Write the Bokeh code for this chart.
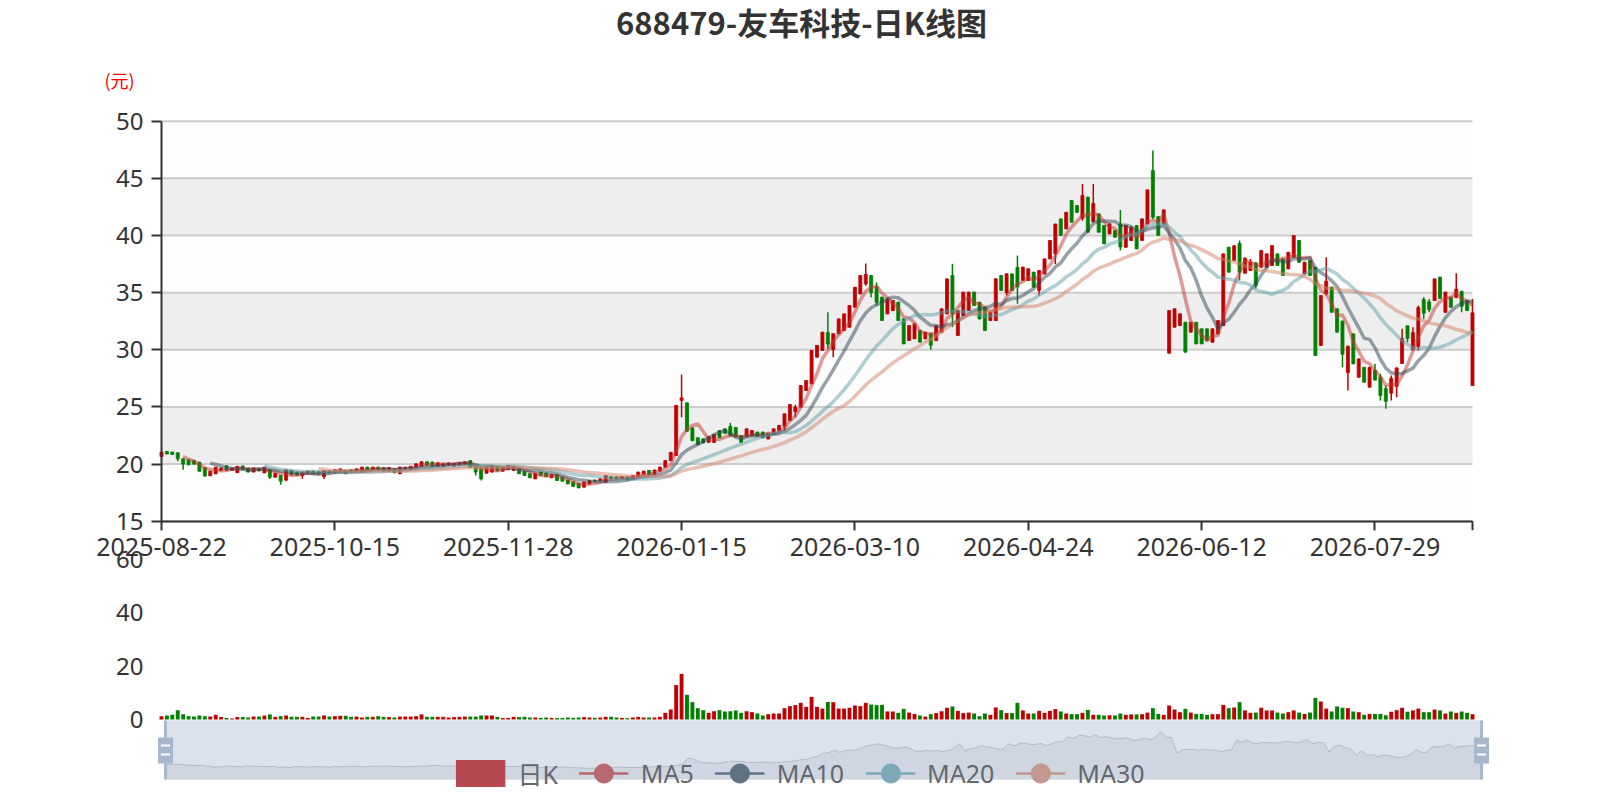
import numpy as np
import pandas as pd
from bokeh.plotting import figure
from bokeh.models import (ColumnDataSource, Range1d, FixedTicker, Label, Legend,
                          LegendItem, BoxAnnotation, LinearAxis)
from bokeh.embed import file_html
from bokeh.resources import INLINE

# ---------------- data ----------------
title_text = "688479-友车科技-日K线图"
tick_idx = [0, 32, 64, 96, 128, 160, 192, 224]
tick_labels = ["2025-08-22", "2025-10-15", "2025-11-28", "2026-01-15",
               "2026-03-10", "2026-04-24", "2026-06-12", "2026-07-29"]
price_ticks = [15, 20, 25, 30, 35, 40, 45, 50]
vol_ticks = [0, 20, 40, 60]
ma_names = ["MA5", "MA10", "MA20", "MA30"]
ma_windows = [5, 10, 20, 30]

opens = [
    20.66, 21.10, 21.04, 20.98, 20.45, 20.37, 20.30, 20.16, 19.67, 18.97,
    19.15, 19.44, 19.85, 19.44, 19.25, 19.83, 19.65, 19.30, 19.60, 19.23,
    19.50, 18.85, 19.00, 18.60, 19.44, 19.29, 19.00, 19.15, 19.38, 19.32,
    18.90, 19.44, 19.23, 19.30, 19.44, 19.50, 19.29, 19.29, 19.73, 19.50,
    19.73, 19.70, 19.40, 19.58, 19.15, 19.50, 19.50, 19.73, 19.80, 20.20,
    20.17, 19.80, 19.80, 19.87, 19.82, 19.90, 19.95, 20.30, 19.75, 19.60,
    19.20, 19.30, 19.80, 19.38, 19.50, 19.44, 19.65, 19.35, 19.15, 18.71,
    19.29, 19.20, 18.80, 19.08, 18.85, 18.60, 18.45, 18.30, 17.98, 18.25,
    18.60, 18.56, 18.42, 18.90, 18.88, 18.71, 18.88, 18.71, 18.90, 19.08,
    19.44, 19.12, 19.38, 19.73, 20.30, 20.74, 25.56, 25.35, 23.17, 22.30,
    22.20, 21.90, 21.90, 22.93, 23.08, 23.30, 23.20, 22.50, 22.40, 22.50,
    22.80, 22.80, 22.20, 22.60, 22.94, 23.30, 23.81, 24.60, 24.98, 26.43,
    27.02, 29.35, 29.94, 31.50, 30.00, 31.40, 31.68, 31.98, 33.72, 34.89,
    35.77, 36.50, 35.50, 34.60, 33.14, 33.43, 34.16, 32.70, 30.81, 30.96,
    31.68, 30.96, 31.40, 30.80, 31.54, 33.14, 36.50, 31.25, 32.99, 33.43,
    35.04, 34.16, 33.72, 32.56, 32.56, 36.50, 35.00, 36.64, 37.20, 36.06,
    36.06, 36.79, 35.20, 36.64, 37.95, 38.40, 41.45, 40.58, 43.06, 42.62,
    41.50, 43.35, 41.20, 41.89, 40.87, 40.14, 40.43, 41.00, 38.97, 39.56,
    40.87, 39.56, 41.02, 45.68, 41.65, 41.02, 29.70, 31.98, 32.12, 32.41,
    31.54, 32.41, 31.83, 31.83, 30.66, 31.39, 32.12, 38.97, 37.81, 39.30,
    36.70, 36.93, 37.60, 37.22, 37.22, 37.37, 38.39, 37.95, 37.08, 38.10,
    39.56, 36.64, 37.81, 37.22, 30.37, 34.90, 35.48, 33.58, 32.50, 28.00,
    31.39, 27.60, 28.47, 26.73, 28.20, 27.60, 26.60, 26.20, 26.80, 28.80,
    32.10, 30.00, 30.30, 34.40, 34.20, 34.31, 36.35, 33.28, 34.60, 34.60,
    35.10, 34.30, 26.87]

closes = [
    21.04, 20.89, 20.84, 20.46, 20.00, 19.93, 20.00, 19.38, 18.95, 19.38,
    19.73, 19.65, 19.44, 19.65, 19.80, 19.55, 19.30, 19.65, 19.40, 19.73,
    18.85, 19.20, 18.50, 19.49, 19.06, 19.00, 19.29, 19.38, 19.15, 19.15,
    19.44, 19.23, 19.50, 19.58, 19.15, 19.29, 19.58, 19.73, 19.50, 19.73,
    19.52, 19.40, 19.70, 19.23, 19.73, 19.73, 19.80, 20.02, 20.20, 19.90,
    19.80, 20.10, 20.02, 20.10, 20.05, 20.12, 20.20, 19.70, 19.30, 18.70,
    19.78, 19.85, 19.40, 19.73, 19.87, 19.78, 19.15, 19.00, 18.80, 19.20,
    19.00, 18.90, 19.08, 18.56, 18.50, 18.27, 18.05, 17.92, 18.42, 18.56,
    18.50, 18.71, 19.00, 18.71, 18.68, 18.90, 18.60, 19.00, 19.29, 19.38,
    19.10, 19.48, 19.73, 20.30, 21.03, 25.12, 25.79, 22.88, 22.05, 21.70,
    21.85, 22.40, 22.58, 22.30, 22.70, 22.50, 22.40, 21.90, 23.08, 22.93,
    22.40, 22.30, 22.70, 23.08, 23.37, 24.39, 25.21, 24.98, 26.87, 27.31,
    29.94, 30.38, 31.54, 30.50, 31.40, 32.70, 33.14, 33.87, 35.47, 36.50,
    36.60, 35.00, 34.16, 32.56, 34.45, 34.31, 32.56, 30.52, 32.12, 32.27,
    30.67, 31.54, 30.40, 32.10, 33.58, 36.20, 33.14, 33.43, 35.04, 35.04,
    33.87, 32.70, 31.68, 33.29, 36.21, 35.20, 36.64, 35.19, 35.50, 37.23,
    37.08, 35.48, 36.93, 37.95, 39.56, 41.00, 40.00, 42.03, 41.16, 42.03,
    43.50, 40.29, 42.80, 40.29, 39.27, 41.02, 39.85, 39.00, 40.87, 40.73,
    38.83, 41.45, 43.99, 41.60, 40.00, 42.24, 33.43, 33.58, 33.14, 29.79,
    32.41, 30.52, 30.52, 30.81, 31.83, 32.55, 38.39, 36.79, 39.10, 36.80,
    38.00, 37.66, 35.60, 38.68, 38.39, 39.12, 37.37, 36.50, 38.53, 39.99,
    37.66, 37.66, 36.50, 29.50, 34.75, 36.00, 33.29, 31.54, 29.60, 30.30,
    28.77, 29.20, 27.16, 28.47, 27.35, 26.00, 25.50, 27.50, 28.40, 31.00,
    31.00, 31.50, 33.70, 33.20, 33.50, 36.20, 34.50, 35.04, 33.72, 35.30,
    33.80, 33.43, 33.23]

lows = [
    20.60, 20.85, 20.80, 20.25, 19.50, 19.90, 19.95, 19.35, 18.90, 18.95,
    19.10, 19.40, 19.40, 19.40, 19.22, 19.50, 19.28, 19.28, 19.38, 19.20,
    18.70, 18.82, 18.18, 18.50, 19.03, 18.97, 18.71, 19.12, 19.12, 19.12,
    18.70, 19.20, 19.20, 19.27, 19.12, 19.26, 19.26, 19.26, 19.47, 19.47,
    19.49, 19.37, 19.37, 19.20, 19.12, 19.47, 19.47, 19.70, 19.77, 19.87,
    19.77, 19.77, 19.77, 19.84, 19.79, 19.87, 19.92, 19.67, 19.00, 18.56,
    19.17, 19.27, 19.37, 19.35, 19.47, 19.41, 19.12, 18.97, 18.77, 18.68,
    18.97, 18.87, 18.77, 18.53, 18.47, 18.24, 18.02, 17.89, 17.95, 18.22,
    18.47, 18.53, 18.39, 18.68, 18.65, 18.68, 18.57, 18.68, 18.87, 19.05,
    19.07, 19.09, 19.35, 19.70, 20.27, 20.70, 24.10, 22.80, 22.00, 21.67,
    21.82, 21.87, 21.87, 22.27, 22.67, 22.40, 22.37, 21.87, 22.37, 22.47,
    22.37, 22.27, 22.17, 22.57, 22.80, 22.94, 23.78, 24.10, 24.95, 26.40,
    26.99, 29.32, 29.91, 30.09, 29.35, 31.37, 31.65, 31.95, 33.69, 34.86,
    35.60, 34.60, 33.87, 32.53, 33.11, 33.40, 32.53, 30.49, 30.78, 30.93,
    30.64, 30.93, 30.00, 30.77, 31.51, 33.11, 31.98, 31.22, 32.96, 33.40,
    33.84, 32.67, 31.65, 32.53, 32.53, 35.17, 34.75, 35.16, 34.02, 36.03,
    36.03, 35.45, 34.75, 36.61, 37.92, 37.50, 39.97, 40.55, 41.13, 42.00,
    41.30, 40.26, 41.16, 40.26, 39.24, 40.11, 39.82, 38.68, 38.94, 39.53,
    38.80, 39.53, 40.99, 41.45, 39.97, 40.99, 29.67, 31.95, 32.09, 29.76,
    31.51, 30.49, 30.49, 30.78, 30.63, 31.36, 32.09, 36.76, 37.78, 36.06,
    36.67, 36.90, 35.34, 37.19, 37.19, 37.34, 37.34, 36.47, 37.05, 38.07,
    37.63, 36.61, 36.47, 29.47, 30.34, 34.75, 33.26, 31.51, 28.47, 26.43,
    28.74, 27.57, 27.13, 26.70, 27.31, 25.56, 24.83, 25.56, 25.85, 28.77,
    30.66, 29.94, 29.94, 32.70, 33.29, 34.28, 34.45, 33.25, 33.69, 34.50,
    33.28, 33.40, 26.87]

highs = [
    21.10, 21.15, 21.08, 21.02, 20.50, 20.40, 20.35, 20.20, 19.70, 19.40,
    19.75, 19.70, 19.88, 19.70, 19.83, 19.86, 19.68, 19.68, 19.63, 19.76,
    19.52, 19.23, 19.02, 19.52, 19.47, 19.32, 19.32, 19.41, 19.41, 19.35,
    19.47, 19.47, 19.53, 19.61, 19.47, 19.53, 19.61, 19.76, 19.76, 19.76,
    19.76, 19.73, 19.73, 19.61, 19.76, 19.76, 19.83, 20.05, 20.23, 20.23,
    20.20, 20.13, 20.05, 20.13, 20.08, 20.15, 20.23, 20.33, 19.78, 19.73,
    19.81, 19.88, 19.83, 19.76, 19.90, 19.81, 19.68, 19.38, 19.18, 19.23,
    19.32, 19.23, 19.11, 19.11, 18.88, 18.63, 18.48, 18.33, 18.45, 18.59,
    18.63, 18.74, 19.03, 18.93, 18.91, 18.93, 18.91, 19.03, 19.32, 19.41,
    19.47, 19.51, 19.76, 20.33, 21.06, 25.20, 27.84, 25.40, 23.20, 22.33,
    22.23, 22.43, 22.61, 22.96, 23.11, 23.60, 23.23, 22.53, 23.11, 22.96,
    22.83, 22.83, 22.73, 23.11, 23.40, 24.42, 25.24, 25.20, 26.90, 27.34,
    29.97, 30.41, 31.57, 33.29, 31.43, 32.73, 33.17, 33.90, 35.50, 36.53,
    37.55, 36.53, 35.90, 34.63, 34.48, 34.34, 34.19, 32.73, 32.15, 32.30,
    31.71, 31.57, 31.43, 32.13, 33.61, 36.23, 37.52, 33.46, 35.07, 35.07,
    35.07, 34.19, 33.75, 33.32, 36.24, 36.53, 36.70, 36.67, 38.24, 37.26,
    37.11, 36.82, 36.96, 37.98, 39.59, 41.03, 41.48, 42.06, 43.09, 42.65,
    44.51, 43.38, 44.50, 41.92, 40.90, 41.05, 40.46, 42.24, 40.90, 40.76,
    40.90, 41.48, 44.02, 47.43, 41.68, 42.27, 33.46, 33.61, 33.17, 32.44,
    32.44, 32.44, 31.86, 31.86, 31.86, 32.58, 38.42, 39.00, 39.13, 39.56,
    38.10, 37.95, 37.66, 38.71, 38.42, 39.15, 38.42, 37.98, 38.56, 40.02,
    39.59, 37.69, 37.84, 37.25, 34.78, 38.10, 35.51, 33.61, 32.56, 30.37,
    31.42, 29.23, 28.50, 28.50, 28.77, 27.90, 26.87, 27.75, 28.48, 31.83,
    32.12, 31.98, 33.87, 34.60, 34.45, 36.23, 36.38, 35.07, 34.63, 36.70,
    35.18, 34.33, 34.45]

volumes = [
    1.25, 1.5, 1.75, 3.5, 2.0, 1.25, 1.1, 1.5, 1.25, 1.1,
    1.75, 0.9, 0.6, 0.4, 0.9, 0.9, 0.75, 1.1, 1.1, 1.5,
    1.9, 1.0, 1.25, 1.5, 1.0, 1.0, 1.0, 0.6, 1.1, 1.1,
    1.5, 1.1, 1.25, 1.4, 1.4, 1.0, 1.1, 0.75, 1.0, 1.0,
    1.25, 1.0, 0.9, 0.75, 1.1, 1.1, 1.1, 1.25, 1.9, 1.0,
    1.0, 1.0, 1.0, 0.75, 0.9, 1.0, 1.1, 1.1, 1.1, 1.5,
    1.5, 1.5, 1.0, 0.6, 0.6, 1.0, 0.9, 1.0, 0.75, 0.75,
    0.6, 0.75, 0.6, 0.5, 0.6, 0.75, 0.6, 0.75, 0.9, 0.75,
    0.6, 0.75, 1.0, 1.0, 0.75, 0.6, 0.5, 0.75, 1.0, 0.75,
    0.75, 0.75, 1.0, 2.5, 3.75, 12.9, 17.1, 9.25, 6.5, 4.25,
    3.5, 2.5, 3.1, 3.5, 3.0, 3.1, 3.4, 2.5, 3.1, 2.75,
    2.25, 1.5, 2.0, 2.25, 2.25, 4.25, 5.0, 5.4, 6.25, 4.75,
    8.5, 4.75, 4.1, 6.6, 6.5, 4.1, 4.1, 4.4, 5.25, 5.0,
    6.25, 5.6, 5.4, 5.5, 3.0, 3.0, 2.5, 4.0, 2.6, 2.1,
    1.5, 1.1, 2.0, 2.4, 3.1, 4.4, 4.9, 3.25, 2.4, 2.6,
    2.25, 1.25, 2.25, 1.75, 4.5, 3.5, 2.4, 2.4, 6.25, 3.4,
    2.25, 2.25, 3.25, 2.5, 3.25, 3.9, 3.0, 2.25, 2.0, 2.0,
    2.5, 3.6, 1.75, 1.75, 1.5, 1.6, 1.5, 2.25, 1.75, 1.9,
    1.9, 2.0, 2.6, 4.25, 2.1, 1.75, 5.25, 3.75, 2.75, 4.0,
    2.6, 2.1, 2.1, 1.75, 2.0, 2.0, 5.5, 4.25, 4.5, 6.5,
    3.4, 2.5, 2.6, 4.4, 3.4, 3.4, 2.6, 2.25, 2.75, 3.4,
    2.6, 2.1, 2.6, 8.1, 6.75, 4.1, 3.0, 4.9, 4.4, 4.25,
    3.0, 2.75, 1.75, 2.1, 2.1, 2.1, 1.6, 2.9, 3.5, 4.4,
    2.9, 3.4, 4.1, 2.75, 2.75, 3.75, 3.4, 2.25, 3.0, 2.5,
    3.0, 2.5, 2.0]

# ---------------- styles / layout (pixels) ----------------
UP, DOWN = "#c00000", "#008000"
MA_COLORS = ["#c23531", "#2f4554", "#61a0a8", "#d48265"]
# legend sits under the semi-transparent data-zoom filler in the original,
# so its colours are shown as seen through that filler
LEG_K = "#b64952"
LEG_MA = ["#b7696f", "#5f7384", "#7da9b6", "#c2978e"]
LEG_TXT = "#616870"
TXT = "#333333"
NUM_FONT = "Noto Sans"
CJK_FONT = "Noto Sans CJK SC"
MIX_FONT = "Noto Sans, Noto Sans CJK SC"
W, H = 1600, 800
X0, X1 = 161.0, 1472.0            # grid left / right
PY50, PY15 = 120.7, 520.7         # price grid top / bottom
VY60, VY0 = 559.0, 719.0          # volume grid top / bottom
SL_L, SL_R, SL_T, SL_B = 165.0, 1481.0, 720.0, 779.0   # data-zoom slider box

N = len(closes)
idx = list(range(N))
colors = [UP if c >= o else DOWN for o, c in zip(opens, closes)]
src = ColumnDataSource(dict(
    x=idx, o=opens, c=closes, l=lows, h=highs,
    top=[max(o, c) for o, c in zip(opens, closes)],
    bottom=[min(o, c) for o, c in zip(opens, closes)],
    color=colors, vol=volumes))
close_s = pd.Series(closes, dtype=float)
ma_values = [close_s.rolling(n).mean().to_numpy() for n in ma_windows]

kx = (X1 - X0) / (N - 1)                 # px per category
ky = (PY15 - PY50) / (price_ticks[-1] - price_ticks[0])   # px per yuan
kv = (VY0 - VY60) / vol_ticks[-1]        # px per volume unit
ks = (SL_R - SL_L) / (N - 1)             # px per category in slider
omin, omax = min(opens), max(opens)
pad = (omax - omin) * 0.3
lo, hi = omin - pad, omax + pad
upp = (hi - lo) / (SL_B - SL_T)

p = figure(width=W, height=H, title=None, toolbar_location=None, output_backend="svg",
           x_axis_location=None, y_axis_location=None,
           min_border=0, min_border_left=0, min_border_right=0,
           min_border_top=0, min_border_bottom=0,
           x_range=Range1d(-X0 / kx, (W - X0) / kx),
           y_range=Range1d(15 - (H - PY15) / ky, 15 + PY15 / ky))
p.extra_x_ranges = {"sidx": Range1d(-SL_L / ks, (N - 1) + (W - SL_R) / ks),
                    "px": Range1d(0, W)}
p.extra_y_ranges = {"vol": Range1d(-(H - VY0) / kv, VY0 / kv),
                    "shadow": Range1d(lo - (H - SL_B) * upp, hi + SL_T * upp),
                    "px": Range1d(H, 0)}
p.outline_line_color = None
p.background_fill_color = "white"
p.border_fill_color = "white"
p.grid.visible = False

# price grid area: background, alternating bands, split lines
p.quad(left=0, right=N - 1, bottom=price_ticks[0], top=price_ticks[-1],
       fill_color="#fdfdfd", line_color=None)
p.quad(left=0, right=N - 1, bottom=price_ticks[1:-1:2], top=price_ticks[2::2],
       fill_color="#eeeeee", line_color=None)
p.segment(x0=0, x1=N - 1, y0=price_ticks, y1=price_ticks, line_color="#cccccc", line_width=2)

# candles
p.segment(x0="x", y0="l", x1="x", y1="h", line_color="color", line_width=1.5, source=src)
p.vbar(x="x", width=0.56, top="top", bottom="bottom", fill_color="color",
       line_color="color", line_width=0.8, source=src)
# moving averages
for ma, col in zip(ma_values, MA_COLORS):
    p.line(idx, ma, line_color=col, line_width=3.5, line_alpha=0.5, line_join="round")

# volume bars
p.vbar(x="x", width=0.72, top="vol", bottom=0, fill_color="color", line_color=None,
       source=src, y_range_name="vol")

# data-zoom shadow
p.varea(x=idx, y1=[lo] * N, y2=opens, fill_color="#2f4554", fill_alpha=0.1,
        x_range_name="sidx", y_range_name="shadow")
p.line(idx, opens, line_color="#2f4554", line_alpha=0.3, line_width=1,
       x_range_name="sidx", y_range_name="shadow")

# axes (drawn at fixed data positions)
ax_p = LinearAxis(ticker=FixedTicker(ticks=price_ticks), fixed_location=0,
                  bounds=(price_ticks[0], price_ticks[-1]))
ax_p.axis_line_color = TXT
ax_p.axis_line_width = 2
ax_p.major_tick_line_color = TXT
ax_p.major_tick_line_width = 2
ax_p.major_tick_out = 10
ax_p.major_tick_in = 0
ax_p.minor_tick_line_color = None
ax_p.major_label_standoff = 8
ax_p.major_label_text_font = NUM_FONT
ax_p.major_label_text_font_size = "24px"
ax_p.major_label_text_color = TXT
p.add_layout(ax_p, "left")

ax_v = LinearAxis(y_range_name="vol", ticker=FixedTicker(ticks=vol_ticks), fixed_location=0,
                  bounds=(vol_ticks[0], vol_ticks[-1]))
ax_v.axis_line_color = None
ax_v.major_tick_line_color = None
ax_v.major_tick_out = 0
ax_v.major_tick_in = 0
ax_v.minor_tick_line_color = None
ax_v.major_label_standoff = 18
ax_v.major_label_text_font = NUM_FONT
ax_v.major_label_text_font_size = "24px"
ax_v.major_label_text_color = TXT
p.add_layout(ax_v, "left")

ax_x = LinearAxis(ticker=FixedTicker(ticks=tick_idx), fixed_location=price_ticks[0],
                  bounds=(0, N - 1))
ax_x.major_label_overrides = {t: lab for t, lab in zip(tick_idx, tick_labels)}
ax_x.axis_line_color = TXT
ax_x.axis_line_width = 2
ax_x.major_tick_line_color = TXT
ax_x.major_tick_line_width = 2
ax_x.major_tick_out = 9
ax_x.major_tick_in = 0
ax_x.minor_tick_line_color = None
ax_x.major_label_standoff = 8
ax_x.major_label_text_font = NUM_FONT
ax_x.major_label_text_font_size = "25px"
ax_x.major_label_text_color = TXT
p.add_layout(ax_x, "below")
# closing tick at the last category
p.segment(x0=N - 1, x1=N - 1, y0=price_ticks[0], y1=price_ticks[0] - 9 / ky,
          line_color=TXT, line_width=2)

# title and unit
p.add_layout(Label(x=801, y=20.5, x_range_name="px", y_range_name="px", text=title_text,
                   text_align="center", text_baseline="middle", text_font=CJK_FONT,
                   text_font_size="31px", text_font_style="bold", text_color=TXT))
p.add_layout(Label(x=119, y=79, x_range_name="px", y_range_name="px", text="(元)",
                   text_align="center", text_baseline="middle", text_font=CJK_FONT,
                   text_font_size="18px", text_color="#ff0000"))

# legend (icon renderers hold one NaN point so nothing shows on the chart itself)
nan1 = [float("nan")]
items = []
rk = p.line(nan1, nan1, line_color=LEG_K, line_width=27)
items.append(LegendItem(label="日K", renderers=[rk]))
for name, col in zip(ma_names, LEG_MA):
    rl = p.line(nan1, nan1, line_color=col, line_width=2.5)
    rs = p.scatter(nan1, nan1, marker="circle", size=20, fill_color=col, line_color=col)
    items.append(LegendItem(label=name, renderers=[rl, rs]))
legend = Legend(items=items, orientation="horizontal", location="bottom_center",
                glyph_width=50, glyph_height=48, label_standoff=12, spacing=21,
                padding=0, margin=3, border_line_color=None, background_fill_alpha=0,
                label_text_font=MIX_FONT, label_text_font_size="25px",
                label_text_color=LEG_TXT)
p.add_layout(legend, "center")

# data-zoom slider
p.add_layout(BoxAnnotation(left=SL_L, right=SL_R, top=SL_T, bottom=SL_B,
                           x_range_name="px", y_range_name="px",
                           fill_color="#a7b7cc", fill_alpha=0.4, line_color="#dddddd",
                           line_width=1, level="overlay"))
for cx in (SL_L, SL_R):
    p.add_layout(BoxAnnotation(left=cx - 1.5, right=cx + 1.5, top=SL_T, bottom=SL_B,
                               x_range_name="px", y_range_name="px",
                               fill_color="#a7b7cc", fill_alpha=1, line_color=None, level="overlay"))
    p.add_layout(BoxAnnotation(left=cx - 7.5, right=cx + 7.5, top=737, bottom=763,
                               x_range_name="px", y_range_name="px",
                               fill_color="#a7b7cc", fill_alpha=1, line_color=None, level="overlay"))
    for wy in (745, 754):
        p.add_layout(BoxAnnotation(left=cx - 4.5, right=cx + 4.5, top=wy - 1, bottom=wy + 1,
                                   x_range_name="px", y_range_name="px",
                                   fill_color="white", fill_alpha=1, line_color=None,
                                   level="overlay"))

open("out.html", "w").write(file_html(p, INLINE, title_text))
